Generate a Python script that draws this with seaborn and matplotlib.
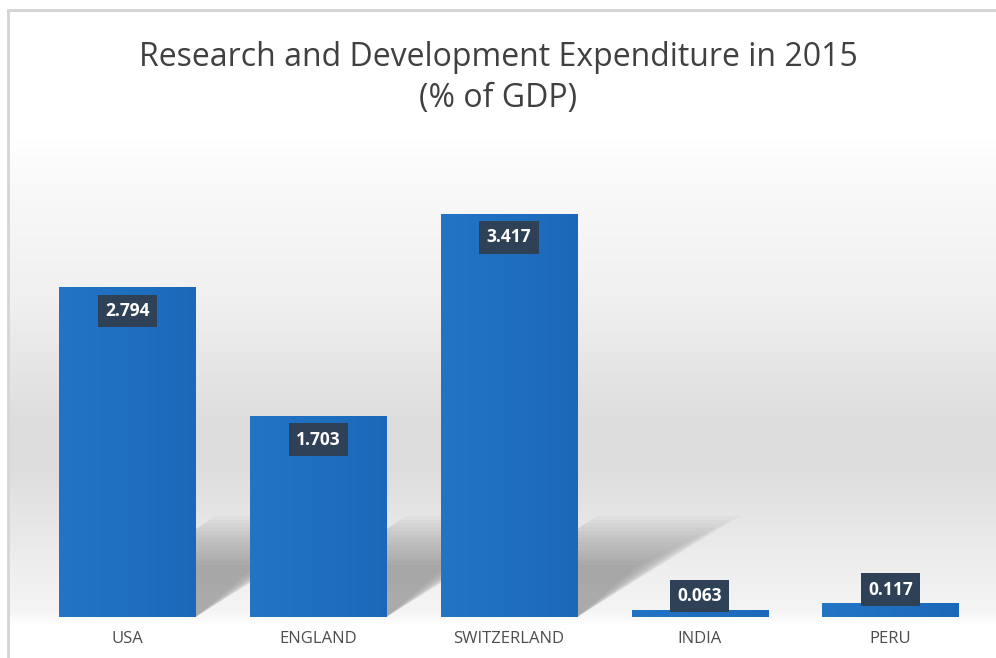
import numpy as np
import pandas as pd
import matplotlib
matplotlib.use("Agg")
import matplotlib.pyplot as plt
import matplotlib.colors as mcolors
from matplotlib.patches import Polygon
import seaborn as sns

countries = ["USA", "ENGLAND", "SWITZERLAND", "INDIA", "PERU"]
values = [2.794, 1.703, 3.417, 0.063, 0.117]
title_text = "Research and Development Expenditure in 2015\n(% of GDP)"

sns.set_theme(style="white")
plt.rcParams['font.family'] = ['Open Sans', 'DejaVu Sans']

W, H = 996, 658
fig = plt.figure(figsize=(W / 100, H / 100), dpi=100)
fig.patch.set_facecolor("white")

# background gradient (figure-level)
bg = fig.add_axes([0, 0, 1, 1], zorder=0)
bg.set_xlim(0, W); bg.set_ylim(H, 0); bg.axis("off")
ys = np.array([0, 140, 160, 300, 420, 470, 560, 610, 625, 658])
gs = np.array([1.0, 1.0, 0.985, 0.94, 0.87, 0.87, 0.93, 0.96, 1.0, 1.0])
yy = np.arange(H)
col = np.interp(yy, ys, gs)
img = np.repeat(col[:, None], 10, axis=1)
bg.imshow(np.dstack([img, img, img]), extent=[10, W, H, 0], aspect="auto", interpolation="bilinear")
bg.plot([8, 8], [10, H], color="#d4d4d4", lw=2)
bg.plot([8, W], [10, 10], color="#d4d4d4", lw=2)

ax = fig.add_axes([32 / W, (H - 617) / H, (986 - 32) / W, (617 - 145) / H], zorder=1)
ax.patch.set_alpha(0)

df = pd.DataFrame({"country": countries, "value": values})
sns.barplot(data=df, x="country", y="value", ax=ax, color="#1f6fc1", width=0.714,
            saturation=1, edgecolor="none", zorder=3)
ax.set_xlim(-0.5, 4.5)
ax.set_ylim(0, 4.0)
bars = list(ax.patches)[:len(values)]

# soft shadows behind bars
for p, v in zip(bars, values):
    if v < 0.5:
        continue
    x0 = p.get_x(); w = p.get_width()
    hs = 0.8
    dx = 0.73
    for k in range(14):
        f = 0.55 + k * 0.04
        sh = (k - 7) * 0.012
        poly = Polygon([(x0 + w * 0.05, 0), (x0 + w, 0),
                        (x0 + w + dx * f + sh, hs * f), (x0 + dx * f + w * 0.05, hs * f)],
                       closed=True, facecolor="#707070", alpha=0.05, edgecolor="none", zorder=2)
        ax.add_patch(poly)

# subtle horizontal gradient inside bars
cmap = mcolors.LinearSegmentedColormap.from_list("b", ["#2474c6", "#1f6fc1", "#1c68b8"])
grad = np.linspace(0, 1, 100)[None, :]
for p in bars:
    x0, y0, w, h = p.get_x(), p.get_y(), p.get_width(), p.get_height()
    im = ax.imshow(grad, extent=[x0, x0 + w, y0, y0 + h], aspect="auto", cmap=cmap, zorder=4)
    im.set_clip_path(p)

# labels
for p, v in zip(bars, values):
    xc = p.get_x() + p.get_width() / 2
    off = -17 if v > 0.5 else 9.8
    ax.annotate(f"{v:.3f}", (xc, v), xytext=(0, off), textcoords="offset points",
                ha="center", va="center", color="white", fontsize=12.5, fontweight="bold",
                zorder=6,
                bbox=dict(boxstyle="square,pad=0.42", fc="#2f4157", ec="none"))

ax.set_xlabel(""); ax.set_ylabel("")
ax.set_yticks([])
ax.tick_params(axis="x", length=0, pad=10, labelsize=12, labelcolor="#4d4d4d")
for s in ax.spines.values():
    s.set_visible(False)

fig.text(0.5, 1 - 78 / H, title_text, ha="center", va="center", fontsize=23,
         color="#404040", linespacing=1.35)

fig.savefig("out.png", dpi=100)
